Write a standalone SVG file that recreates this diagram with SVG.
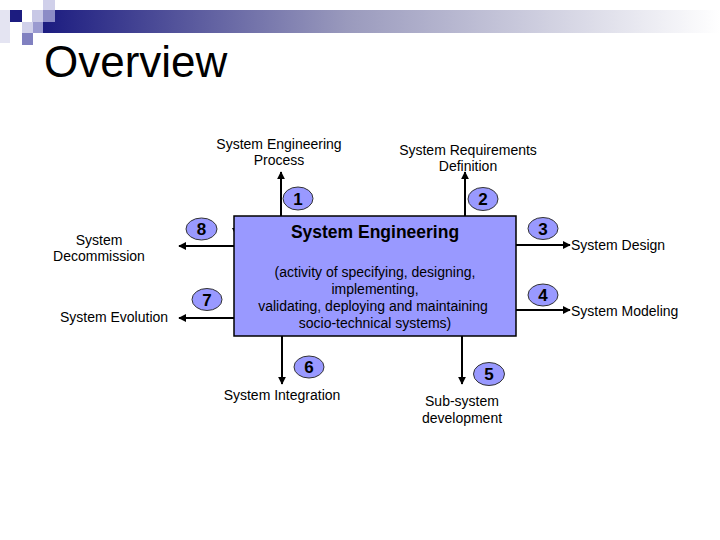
<svg xmlns="http://www.w3.org/2000/svg" width="720" height="540" viewBox="0 0 720 540">
<defs>
<linearGradient id="bar" x1="0" y1="0" x2="1" y2="0">
<stop offset="0" stop-color="#1c1c80"/>
<stop offset="0.45" stop-color="#9a9abd"/>
<stop offset="1" stop-color="#ffffff"/>
</linearGradient>
<marker id="ah" viewBox="0 0 10 10" refX="9" refY="5" markerWidth="4" markerHeight="4" orient="auto">
<path d="M0,0 L10,5 L0,10 z" fill="#000"/>
</marker>
<style>
.t{font-family:"Liberation Sans",Arial,sans-serif;font-size:14px;fill:#000}
.c{text-anchor:middle}
.num{font-family:"Liberation Sans",Arial,sans-serif;font-size:17px;font-weight:bold;text-anchor:middle;fill:#000}
.el{fill:#9999ff;stroke:#333;stroke-width:1}
.ln{stroke:#000;stroke-width:2;fill:none;marker-end:url(#ah)}
</style>
</defs>
<rect width="720" height="540" fill="#fff"/>
<g id="header">
<rect x="43" y="10" width="677" height="23" fill="url(#bar)"/>
<rect x="0" y="10" width="10" height="33" fill="#e4e4f2"/>
<rect x="10" y="10" width="12" height="12" fill="#1c1c80"/>
<rect x="32" y="10" width="11" height="12" fill="#c8c8e6"/>
<rect x="43" y="0" width="12" height="10" fill="#d0d0ea"/>
<rect x="43" y="10" width="12" height="12" fill="#8c8cc6"/>
<rect x="22" y="22" width="11" height="11" fill="#d0d0ea"/>
<rect x="33" y="22" width="10" height="11" fill="#9a9ad0"/>
<rect x="22" y="33" width="11" height="12" fill="#8080c0"/>
<text x="44" y="77" font-family="Liberation Sans,Arial,sans-serif" font-size="44" fill="#000">Overview</text>
</g>
<g id="connectors">
<line class="ln" x1="281" y1="216" x2="281" y2="172"/>
<line class="ln" x1="465" y1="216" x2="465" y2="172"/>
<line class="ln" x1="516" y1="245" x2="570" y2="245"/>
<line class="ln" x1="516" y1="310" x2="570" y2="310"/>
<line class="ln" x1="462" y1="336" x2="462" y2="384"/>
<line class="ln" x1="282" y1="336" x2="282" y2="384"/>
<line class="ln" x1="234" y1="318" x2="179" y2="318"/>
<line class="ln" x1="234" y1="246" x2="179" y2="246"/>
<path d="M232,228 L237,228 L234.5,233 z" fill="#000"/>
</g>
<g id="main">
<rect x="234" y="216" width="282" height="120" fill="#9999ff" stroke="#000" stroke-width="1.5"/>
<text x="375" y="238" class="c" font-family="Liberation Sans,Arial,sans-serif" font-size="17.5" font-weight="bold">System Engineering</text>
<text class="t c" x="375" y="277">(activity of specifying, designing,</text>
<text class="t c" x="375" y="294">implementing,</text>
<text class="t c" x="373" y="311">validating, deploying and maintaining</text>
<text class="t c" x="375" y="328">socio-technical systems)</text>
</g>
<g id="n1"><ellipse class="el" cx="298" cy="198.5" rx="15" ry="11.5"/><text class="num" x="298" y="204.5">1</text></g>
<g id="n2"><ellipse class="el" cx="483" cy="199" rx="15" ry="11.5"/><text class="num" x="483" y="205">2</text></g>
<g id="n3"><ellipse class="el" cx="543" cy="228.5" rx="15" ry="11"/><text class="num" x="543" y="234.5">3</text></g>
<g id="n4"><ellipse class="el" cx="543" cy="295" rx="15" ry="11"/><text class="num" x="543" y="301">4</text></g>
<g id="n5"><ellipse class="el" cx="489" cy="374" rx="15.5" ry="11.5"/><text class="num" x="489" y="380">5</text></g>
<g id="n6"><ellipse class="el" cx="309" cy="367" rx="15" ry="11"/><text class="num" x="309" y="373">6</text></g>
<g id="n7"><ellipse class="el" cx="207" cy="299.5" rx="15" ry="11"/><text class="num" x="207" y="305.5">7</text></g>
<g id="n8"><ellipse class="el" cx="201.5" cy="229" rx="15.5" ry="11"/><text class="num" x="201.5" y="235">8</text></g>
<g id="labels">
<text class="t c" x="279" y="149">System Engineering</text>
<text class="t c" x="279" y="165">Process</text>
<text class="t c" x="468" y="155">System Requirements</text>
<text class="t c" x="468" y="171">Definition</text>
<text class="t" x="571" y="250">System Design</text>
<text class="t" x="571" y="316">System Modeling</text>
<text class="t c" x="462" y="406">Sub-system</text>
<text class="t c" x="462" y="423">development</text>
<text class="t c" x="282" y="400">System Integration</text>
<text class="t c" x="114" y="322">System Evolution</text>
<text class="t c" x="99" y="245">System</text>
<text class="t c" x="99" y="261">Decommission</text>
</g>
</svg>
